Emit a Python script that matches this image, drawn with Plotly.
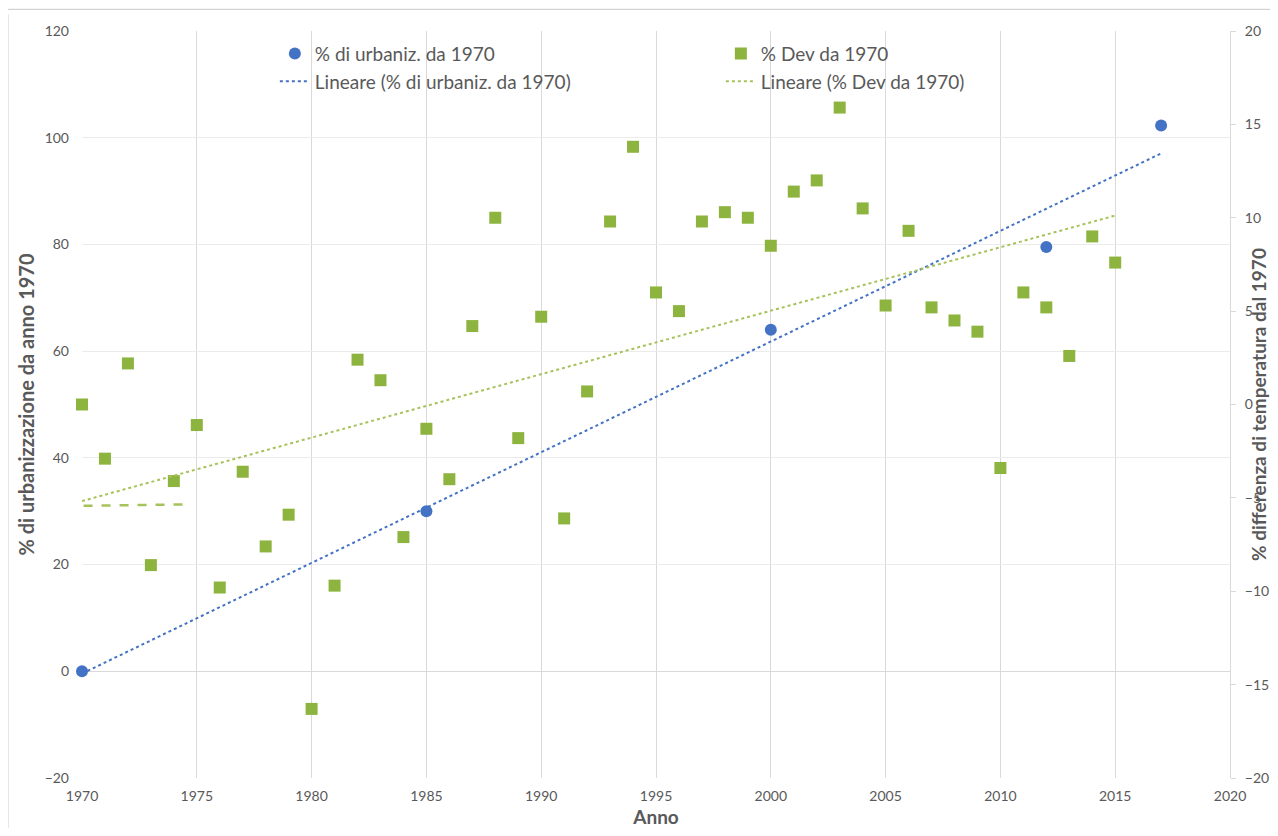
import numpy as np
import plotly.graph_objects as go

# Urbanization series (left axis)
urb_years = [1970, 1985, 2000, 2012, 2017]
urb_vals = [0, 30, 64, 79.5, 102.3]

# Temperature deviation series (right axis)
dev_years = list(range(1970, 2016))
dev_vals = [0.0, -2.9, 2.2, -8.6, -4.1, -1.1, -9.8, -3.6, -7.6, -5.9,
            -16.3, -9.7, 2.4, 1.3, -7.1, -1.3, -4.0, 4.2, 10.0, -1.8,
            4.7, -6.1, 0.7, 9.8, 13.8, 6.0, 5.0, 9.8, 10.3, 10.0,
            8.5, 11.4, 12.0, 15.9, 10.5, 5.3, 9.3, 5.2, 4.5, 3.9,
            -3.4, 6.0, 5.2, 2.6, 9.0, 7.6]

# short dashed green segment seen at left
dash_x = [1968.5, 1974.5]
dash_y = [-5.45, -5.35]

x_ticks = [1970, 1975, 1980, 1985, 1990, 1995, 2000, 2005, 2010, 2015, 2020]
y_left_ticks = [-20, 0, 20, 40, 60, 80, 100, 120]
y_right_ticks = [-20, -15, -10, -5, 0, 5, 10, 15, 20]

BLUE = "#4472C4"
GREEN = "#8DB43E"
GREEN_LINE = "#A6C25A"
TXT = "#595959"
GRID = "#D9D9D9"
FONT = "Lato, 'Open Sans', sans-serif"

# linear trends
pu = np.polyfit(urb_years, urb_vals, 1)
tu_x = [urb_years[0], urb_years[-1]]
tu_y = list(np.polyval(pu, tu_x))
pd_ = np.polyfit(dev_years, dev_vals, 1)
td_x = [dev_years[0], dev_years[-1]]
td_y = list(np.polyval(pd_, td_x))

fig = go.Figure()
fig.add_trace(go.Scatter(x=urb_years, y=urb_vals, mode="markers", name="% di urbaniz. da 1970",
                         marker=dict(color=BLUE, size=12, symbol="circle"), cliponaxis=False))
fig.add_trace(go.Scatter(x=dev_years, y=dev_vals, mode="markers", name="% Dev da 1970", yaxis="y2",
                         marker=dict(color=GREEN, size=12, symbol="square"), cliponaxis=False))
fig.add_trace(go.Scatter(x=tu_x, y=tu_y, mode="lines", name="Lineare (% di urbaniz. da 1970)",
                         line=dict(color=BLUE, width=2, dash="dot")))
fig.add_trace(go.Scatter(x=td_x, y=td_y, mode="lines", name="Lineare (% Dev da 1970)", yaxis="y2",
                         line=dict(color=GREEN_LINE, width=2, dash="dot")))
fig.add_trace(go.Scatter(x=dash_x, y=dash_y, mode="lines", yaxis="y2", showlegend=False,
                         line=dict(color=GREEN_LINE, width=2.5, dash="dash")))

fig.update_layout(
    width=1262, height=820,
    margin=dict(l=74, r=40, t=23, b=50, autoexpand=False),
    paper_bgcolor="white", plot_bgcolor="white",
    font=dict(family=FONT, color=TXT, size=14),
    xaxis=dict(range=[1970, 2020], tickvals=x_ticks, showgrid=True, gridcolor=GRID, gridwidth=1,
               zeroline=False, showline=False, ticks="", automargin=False,
               ticklabelstandoff=8,
               tickfont=dict(size=14, color=TXT),
               title=dict(text="<b>Anno</b>", font=dict(size=19, color=TXT), standoff=12)),
    yaxis=dict(range=[-20, 120], tickvals=y_left_ticks, showgrid=True, gridcolor="#EBEBEB",
               zeroline=True, zerolinecolor=GRID, zerolinewidth=1, showline=False, ticks="",
               automargin=False, ticklabelstandoff=12,
               tickfont=dict(size=14, color=TXT),
               title=dict(text="<b>% di urbanizzazione da anno 1970</b>", font=dict(size=20, color=TXT),
                          standoff=4)),
    yaxis2=dict(range=[-20, 20], tickvals=y_right_ticks, overlaying="y", side="right",
                showgrid=False, zeroline=False, showline=True, linecolor=GRID, linewidth=1,
                ticks="outside", ticklen=5, tickcolor=GRID, automargin=False,
                ticklabelstandoff=6,
                tickfont=dict(size=14, color=TXT),
                title=dict(text="<b>% differenza di temperatura dal 1970</b>", font=dict(size=19, color=TXT),
                           standoff=0)),
    legend=dict(orientation="h", x=0.168, y=0.995, xanchor="left", yanchor="top",
                entrywidth=401, entrywidthmode="pixels", bgcolor="rgba(0,0,0,0)",
                font=dict(size=19, color=TXT), tracegroupgap=0, itemwidth=30),
    showlegend=True,
)

fig.add_shape(type="line", xref="paper", yref="paper", x0=-0.07, x1=1.04, y0=1.029, y1=1.029,
              line=dict(color="#C8C8C8", width=1))
fig.add_shape(type="line", xref="paper", yref="paper", x0=-0.064, x1=-0.064, y0=-0.07, y1=1.022,
              line=dict(color="#E6E6E6", width=1))

fig.write_html("out.html")
